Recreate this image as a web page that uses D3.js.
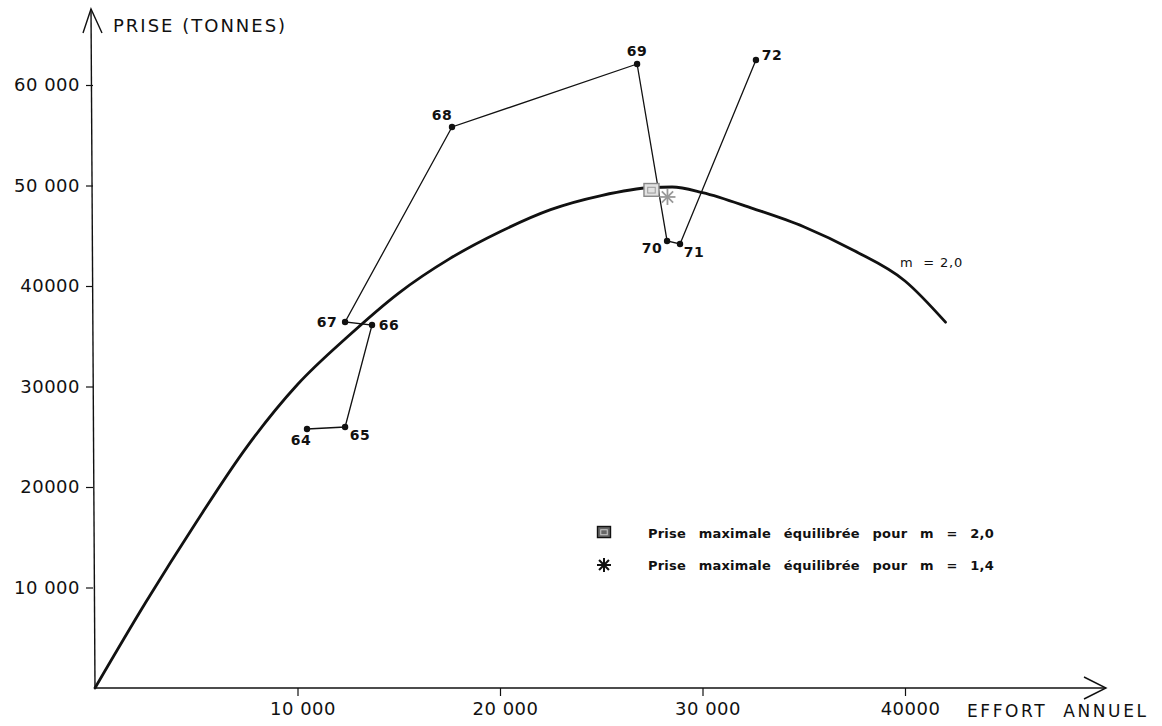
<!DOCTYPE html>
<html>
<head>
<meta charset="utf-8">
<script src="https://cdn.jsdelivr.net/npm/d3@7"></script>
<style>
  html, body { margin: 0; padding: 0; background: #fff; }
  svg { display: block; }
  text { font-family: "DejaVu Sans", sans-serif; fill: #111; }
</style>
</head>
<body>
<svg id="chart" width="1162" height="726"></svg>
<script>
// ---- data ----
const years       = ["64", "65", "66", "67", "68", "69", "70", "71", "72"];
const yearEffort  = [10470, 12350, 13680, 12350, 17630, 26770, 28250, 28890, 32640];
const yearCatch   = [25770, 25970, 36120, 36420, 55820, 62090, 44480, 44180, 62490];

// equilibrium curve, m = 2,0
const curveEffort = [0, 2500, 5000, 7500, 10000, 12500, 15000, 17500, 20000, 22500, 25000, 27500, 28500, 30000, 32500, 35000, 37500, 40000, 42000];
const curveCatch  = [0, 8500, 16500, 24000, 30200, 35000, 39300, 42700, 45400, 47600, 49000, 49800, 49850, 49300, 47700, 45900, 43500, 40500, 36400];

// maximum sustainable yield markers
const msyLabels = ["Prise maximale équilibrée pour m = 2,0", "Prise maximale équilibrée pour m = 1,4"];
const msyEffort = [27480, 28270];
const msyCatch  = [49450, 48860];
const curveLabel = "m = 2,0";

const xTicks = [10000, 20000, 30000, 40000];
const xTickLabels = ["10 000", "20 000", "30 000", "40000"];
const yTicks = [10000, 20000, 30000, 40000, 50000, 60000];
const yTickLabels = ["10 000", "20000", "30000", "40000", "50 000", "60 000"];
const xTitle = "EFFORT  ANNUEL";
const yTitle = "PRISE (TONNES)";

// ---- layout ----
const svg = d3.select("#chart");
const x = d3.scaleLinear().domain([0, 40000]).range([95, 905]);
const y = d3.scaleLinear().domain([0, 60000]).range([688, 85]);

// label placement for the year points (dx, dy from the dot)
const yearLabelOffset = {
  "64": [-6, 11], "65": [15, 8], "66": [17, 0], "67": [-18, 0], "68": [-10, -12],
  "69": [0, -13], "70": [-15, 7], "71": [14, 8], "72": [16, -5]
};

// ---- axes ----
const axisY = svg.append("g").attr("transform", `translate(${x(0) - 2},0)`)
  .call(d3.axisLeft(y).tickValues(yTicks).tickSize(7).tickPadding(6)
        .tickFormat((d, i) => yTickLabels[i]));
axisY.select(".domain").remove();
axisY.selectAll(".tick line").attr("stroke", "#111").attr("stroke-width", 1.2);
axisY.selectAll(".tick text").attr("font-size", 18).attr("letter-spacing", 0.5).attr("fill", "#111");

const axisX = svg.append("g").attr("transform", `translate(0,${y(0)})`)
  .call(d3.axisBottom(x).tickValues(xTicks).tickSize(8).tickPadding(6)
        .tickFormat((d, i) => xTickLabels[i]));
axisX.select(".domain").remove();
axisX.selectAll(".tick line").attr("stroke", "#111").attr("stroke-width", 1.2);
axisX.selectAll(".tick text").attr("font-size", 18).attr("letter-spacing", 0.5).attr("fill", "#111")
  .attr("dx", 5);

// axis lines with open arrowheads
const yTop = 9, xEnd = 1106;
svg.append("path")
  .attr("d", `M${x(0)},${y(0)} L${x(0) - 4},${yTop}`)
  .attr("stroke", "#111").attr("stroke-width", 1.4).attr("fill", "none");
svg.append("path")
  .attr("d", `M${x(0) - 12},${yTop + 24} L${x(0) - 4},${yTop} L${x(0) + 7},${yTop + 24}`)
  .attr("stroke", "#111").attr("stroke-width", 1.4).attr("fill", "none");
svg.append("path")
  .attr("d", `M${x(0)},${y(0)} L${xEnd},${y(0)}`)
  .attr("stroke", "#111").attr("stroke-width", 1.6).attr("fill", "none");
svg.append("path")
  .attr("d", `M${xEnd - 22},${y(0) - 11} L${xEnd},${y(0)} L${xEnd - 22},${y(0) + 11}`)
  .attr("stroke", "#111").attr("stroke-width", 1.4).attr("fill", "none");

svg.append("text").attr("x", 113).attr("y", 32)
  .attr("font-size", 18).attr("letter-spacing", 2).text(yTitle);
svg.append("text").attr("x", 967).attr("y", y(0) + 29)
  .attr("font-size", 17).attr("letter-spacing", 2.6).attr("xml:space", "preserve")
  .style("white-space", "pre").text(xTitle);

// ---- equilibrium curve ----
const curvePts = curveEffort.map((e, i) => [e, curveCatch[i]]);
svg.append("path")
  .datum(curvePts)
  .attr("d", d3.line().x(d => x(d[0])).y(d => y(d[1])).curve(d3.curveMonotoneX))
  .attr("fill", "none").attr("stroke", "#111").attr("stroke-width", 2.8)
  .attr("stroke-linecap", "round");

svg.append("text").attr("x", 900).attr("y", 267)
  .attr("font-size", 13).attr("letter-spacing", 0.8).attr("xml:space", "preserve")
  .style("white-space", "pre").text(curveLabel.replace(" = ", "  = "));

// ---- yearly observations ----
const obs = years.map((yr, i) => ({ yr, e: yearEffort[i], c: yearCatch[i] }));
svg.append("path")
  .datum(obs)
  .attr("d", d3.line().x(d => x(d.e)).y(d => y(d.c)))
  .attr("fill", "none").attr("stroke", "#111").attr("stroke-width", 1.3);
svg.selectAll("circle.obs").data(obs).join("circle")
  .attr("class", "obs")
  .attr("cx", d => x(d.e)).attr("cy", d => y(d.c)).attr("r", 3.2).attr("fill", "#111");
svg.selectAll("text.obs").data(obs).join("text")
  .attr("class", "obs")
  .attr("x", d => x(d.e) + yearLabelOffset[d.yr][0])
  .attr("y", d => y(d.c) + yearLabelOffset[d.yr][1])
  .attr("text-anchor", "middle").attr("dominant-baseline", "central")
  .attr("font-size", 14).attr("font-weight", "bold").attr("letter-spacing", 0.5)
  .text(d => d.yr);

// ---- markers ----
function squareMarker(g, cx, cy, s, col, fill, inner) {
  g.append("rect").attr("x", cx - s / 2).attr("y", cy - s / 2).attr("width", s).attr("height", s * 0.85)
    .attr("fill", fill).attr("stroke", col).attr("stroke-width", 1.4);
  g.append("rect").attr("x", cx - s / 4).attr("y", cy - s / 4).attr("width", s / 2).attr("height", s / 2.6)
    .attr("fill", "none").attr("stroke", inner).attr("stroke-width", 1);
}
function starMarker(g, cx, cy, r, col, w) {
  [0, 45, 90, 135].forEach(a => {
    const t = a * Math.PI / 180;
    g.append("line")
      .attr("x1", cx - r * Math.cos(t)).attr("y1", cy - r * Math.sin(t))
      .attr("x2", cx + r * Math.cos(t)).attr("y2", cy + r * Math.sin(t))
      .attr("stroke", col).attr("stroke-width", w);
  });
}
const mk = svg.append("g");
squareMarker(mk, x(msyEffort[0]), y(msyCatch[0]), 15, "#888", "#e2e2e2", "#999");
starMarker(mk, x(msyEffort[1]), y(msyCatch[1]), 8, "#999", 1.8);

// ---- legend ----
const lg = svg.append("g");
squareMarker(lg, 604, 533, 13, "#111", "#666", "#ccc");
starMarker(lg, 604, 565, 7, "#111", 2);
msyLabels.forEach((t, i) => {
  lg.append("text").attr("x", 648).attr("y", 533 + i * 32)
    .attr("dominant-baseline", "central")
    .attr("font-size", 13).attr("font-weight", "bold")
    .attr("word-spacing", 8).attr("letter-spacing", 0.2)
    .text(t);
});
</script>
</body>
</html>
